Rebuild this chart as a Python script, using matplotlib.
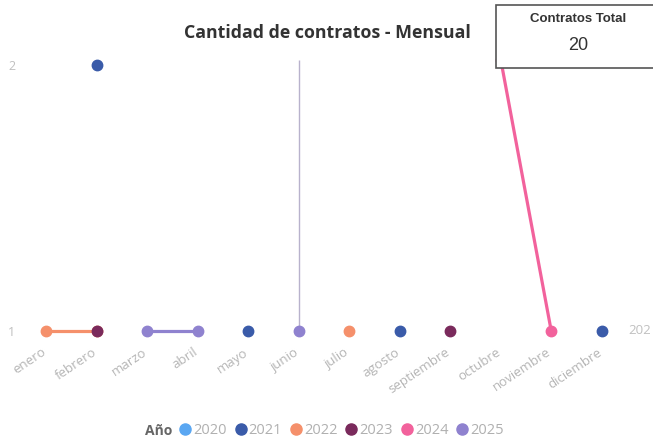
import numpy as np
import matplotlib
matplotlib.use("Agg")
import matplotlib.pyplot as plt
import matplotlib.transforms as mtrans
from matplotlib.patches import Rectangle
from matplotlib.lines import Line2D

months = ["enero", "febrero", "marzo", "abril", "mayo", "junio", "julio",
          "agosto", "septiembre", "octubre", "noviembre", "diciembre"]
nan = np.nan
years = ["2020", "2021", "2022", "2023", "2024", "2025"]
colors = ["#5aa7f2", "#3a5ba9", "#f5906b", "#7a2a5c", "#f2629c", "#8f82cf"]
v2020 = [nan] * 12
v2021 = [nan, 2, nan, nan, 1, nan, nan, 1, nan, nan, nan, 1]
v2022 = [1, 1, nan, nan, nan, nan, 1, nan, nan, nan, nan, nan]
v2023 = [nan, 1, nan, nan, nan, nan, nan, nan, 1, nan, nan, nan]
v2024 = [nan, nan, nan, nan, nan, nan, nan, nan, nan, 2.02, 1, nan]
v2025 = [nan, nan, 1, 1, nan, 1, nan, nan, nan, nan, nan, nan]
series = [v2020, v2021, v2022, v2023, v2024, v2025]
junio_range = [1, 2.02]
total = 20

plt.rcParams['font.family'] = ['Open Sans', 'DejaVu Sans']

W, H = 653, 443
fig = plt.figure(figsize=(W / 100, H / 100), dpi=100)
x0, x1 = 21, 627
y_top, y_bot = 38.4, 340
ax = fig.add_axes([x0 / W, 1 - y_bot / H, (x1 - x0) / W, (y_bot - y_top) / H])
ax.set_xlim(-0.5, 11.5)
ax.set_ylim(1 - 9 / 266, 2.1)
for s in ax.spines.values():
    s.set_visible(False)

x = np.arange(len(months))
ax.vlines(5, junio_range[0], junio_range[1], color="#b8b2cc", lw=1, zorder=1)
for vals, col in zip(series, colors):
    ax.plot(x, vals, color=col, lw=2.3, marker="o", ms=7.5, zorder=2,
            clip_on=False)

ax.set_xticks(x)
ax.set_xticklabels(months, rotation=34, ha="right", rotation_mode="anchor",
                   color="#b5b5b5", fontsize=9.5)
ax.tick_params(axis="x", length=0, pad=4)
off = mtrans.ScaledTranslation(-5 / 100, 0, fig.dpi_scale_trans)
for lab in ax.get_xticklabels():
    lab.set_transform(lab.get_transform() + off)

ax.set_yticks([1, 2])
ax.set_yticklabels(["1", "2"], color="#c0c0c0", fontsize=9)
ax.tick_params(axis="y", length=0)
for t in ax.yaxis.get_major_ticks():
    t.label1.set_transform(mtrans.blended_transform_factory(
        fig.transFigure, ax.transData))
    t.label1.set_x(8 / W)
    t.label1.set_horizontalalignment("left")

fig.text(651 / W, 1 - 331 / H, "202", color="#c0c0c0", fontsize=9.5,
         va="center", ha="right")

fig.text(327 / W, 1 - 33 / H, "Cantidad de contratos - Mensual",
         fontsize=12.8, fontweight="bold", color="#333333",
         ha="center", va="center")

# total card
fig.add_artist(Rectangle((496 / W, 1 - 68 / H), 160 / W, 63 / H,
                         transform=fig.transFigure, facecolor="white",
                         edgecolor="#555555", lw=1.2, zorder=5))
fig.text(578 / W, 1 - 19 / H, "Contratos Total", fontsize=9.5,
         fontweight="bold", color="#333333", ha="center", va="center",
         family=["Liberation Sans", "DejaVu Sans"], zorder=6)
fig.text(578 / W, 1 - 46 / H, str(total), fontsize=13, color="#333333",
         ha="center", va="center", family=["Liberation Sans", "DejaVu Sans"],
         zorder=6)

# legend
fig.text(145 / W, 1 - 431 / H, "Año", fontsize=10, fontweight="bold",
         color="#666666", ha="left", va="center")
handles = [Line2D([], [], ls="none", marker="o", ms=8, color=c) for c in colors]
leg = fig.legend(handles, years, loc="center left",
                 bbox_to_anchor=(178 / W, 1 - 431 / H), ncol=6, frameon=False,
                 handletextpad=0.05, columnspacing=0.45, handlelength=1.0,
                 fontsize=10.5, borderaxespad=0, borderpad=0)
for t in leg.get_texts():
    t.set_color("#b0b0b0")

fig.savefig("out.png", dpi=100, facecolor="white")
